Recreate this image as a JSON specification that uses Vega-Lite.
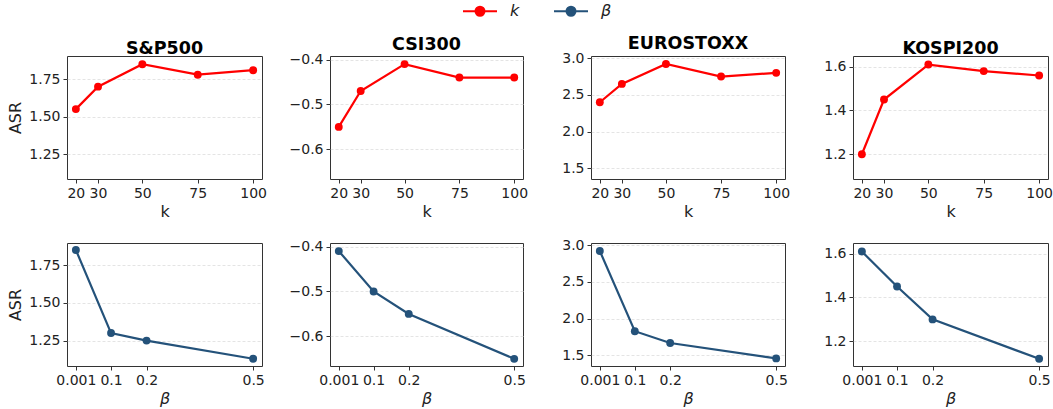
{
  "$schema": "https://vega.github.io/schema/vega-lite/v6.json",
  "padding": {"left": 6, "top": 3, "right": 0, "bottom": 0},
  "background": "white",
  "bounds": "flush",
  "columns": 4,
  "spacing": {"row": 64, "column": 68},
  "config": {
    "font": "DejaVu Sans",
    "view": {"stroke": "#333333", "strokeWidth": 1},
    "title": {"fontSize": 17.5, "fontWeight": "bold", "color": "#000000", "offset": -1, "font": "DejaVu Sans"},
    "axis": {
      "labelFont": "DejaVu Sans", "labelFontSize": 14, "labelColor": "#222222",
      "titleFont": "DejaVu Sans", "titleFontSize": 16, "titleFontWeight": "normal", "titleColor": "#222222",
      "tickColor": "#333333", "tickSize": 4, "domain": false, "labelPadding": 3, "titlePadding": 3
    },
    "axisY": {"grid": true, "gridColor": "#dddddd", "gridDash": [3, 2], "gridWidth": 0.8, "minExtent": 42, "maxExtent": 42, "titlePadding": 2},
    "axisX": {"grid": false, "labelFlush": false},
    "legend": {"labelFont": "DejaVu Sans", "labelFontSize": 16, "labelFontStyle": "italic", "labelColor": "#222222", "padding": 0}
  },
  "datasets": {
    "rows": [
      {"market": "S&P500", "param": "k", "x": 20, "asr": 1.55},
      {"market": "S&P500", "param": "k", "x": 30, "asr": 1.70},
      {"market": "S&P500", "param": "k", "x": 50, "asr": 1.85},
      {"market": "S&P500", "param": "k", "x": 75, "asr": 1.78},
      {"market": "S&P500", "param": "k", "x": 100, "asr": 1.81},
      {"market": "S&P500", "param": "β", "x": 0.001, "asr": 1.85},
      {"market": "S&P500", "param": "β", "x": 0.1, "asr": 1.30},
      {"market": "S&P500", "param": "β", "x": 0.2, "asr": 1.25},
      {"market": "S&P500", "param": "β", "x": 0.5, "asr": 1.13},
      {"market": "CSI300", "param": "k", "x": 20, "asr": -0.55},
      {"market": "CSI300", "param": "k", "x": 30, "asr": -0.47},
      {"market": "CSI300", "param": "k", "x": 50, "asr": -0.41},
      {"market": "CSI300", "param": "k", "x": 75, "asr": -0.44},
      {"market": "CSI300", "param": "k", "x": 100, "asr": -0.44},
      {"market": "CSI300", "param": "β", "x": 0.001, "asr": -0.41},
      {"market": "CSI300", "param": "β", "x": 0.1, "asr": -0.50},
      {"market": "CSI300", "param": "β", "x": 0.2, "asr": -0.55},
      {"market": "CSI300", "param": "β", "x": 0.5, "asr": -0.65},
      {"market": "EUROSTOXX", "param": "k", "x": 20, "asr": 2.40},
      {"market": "EUROSTOXX", "param": "k", "x": 30, "asr": 2.65},
      {"market": "EUROSTOXX", "param": "k", "x": 50, "asr": 2.92},
      {"market": "EUROSTOXX", "param": "k", "x": 75, "asr": 2.75},
      {"market": "EUROSTOXX", "param": "k", "x": 100, "asr": 2.80},
      {"market": "EUROSTOXX", "param": "β", "x": 0.001, "asr": 2.92},
      {"market": "EUROSTOXX", "param": "β", "x": 0.1, "asr": 1.83},
      {"market": "EUROSTOXX", "param": "β", "x": 0.2, "asr": 1.67},
      {"market": "EUROSTOXX", "param": "β", "x": 0.5, "asr": 1.46},
      {"market": "KOSPI200", "param": "k", "x": 20, "asr": 1.20},
      {"market": "KOSPI200", "param": "k", "x": 30, "asr": 1.45},
      {"market": "KOSPI200", "param": "k", "x": 50, "asr": 1.61},
      {"market": "KOSPI200", "param": "k", "x": 75, "asr": 1.58},
      {"market": "KOSPI200", "param": "k", "x": 100, "asr": 1.56},
      {"market": "KOSPI200", "param": "β", "x": 0.001, "asr": 1.61},
      {"market": "KOSPI200", "param": "β", "x": 0.1, "asr": 1.45},
      {"market": "KOSPI200", "param": "β", "x": 0.2, "asr": 1.30},
      {"market": "KOSPI200", "param": "β", "x": 0.5, "asr": 1.12}
    ]
  },
  "concat": [
    {
      "width": 195, "height": 123, "title": "S&P500",
      "data": {"name": "rows"},
      "transform": [{"filter": "datum.market === 'S&P500' && datum.param === 'k'"}],
      "mark": {"type": "line", "strokeWidth": 2.2, "point": {"size": 62, "filled": true}},
      "encoding": {
        "x": {"field": "x", "type": "quantitative", "scale": {"domain": [16, 104], "nice": false, "zero": false}, "axis": {"values": [20, 30, 50, 75, 100], "title": "k"}},
        "y": {"field": "asr", "type": "quantitative", "scale": {"domain": [1.083, 1.905], "nice": false, "zero": false}, "axis": {"values": [1.25, 1.5, 1.75], "format": ".2f", "title": "ASR"}},
        "color": {"field": "param", "type": "nominal", "scale": {"domain": ["k", "β"], "range": ["#ff0000", "#24527a"]},
          "legend": {"orient": "none", "direction": "horizontal", "legendX": 405, "legendY": -53, "title": null,
            "symbolType": "M -3.4 0 L 3.4 0 M -0.9 0 A 0.9 0.9 0 1 1 0.9 0 A 0.9 0.9 0 1 1 -0.9 0 Z", "symbolSize": 100, "symbolStrokeWidth": 2, "labelOffset": 22, "columnPadding": 30,
            "encode": {"symbols": {"update": {"fill": {"scale": "color", "field": "value"}, "stroke": {"scale": "color", "field": "value"}, "opacity": {"value": 1}}}}}}
      }
    },
    {
      "width": 193, "height": 123, "title": "CSI300",
      "data": {"name": "rows"},
      "transform": [{"filter": "datum.market === 'CSI300' && datum.param === 'k'"}],
      "mark": {"type": "line", "strokeWidth": 2.2, "point": {"size": 62, "filled": true}},
      "encoding": {
        "x": {"field": "x", "type": "quantitative", "scale": {"domain": [16, 104], "nice": false, "zero": false}, "axis": {"values": [20, 30, 50, 75, 100], "title": "k"}},
        "y": {"field": "asr", "type": "quantitative", "scale": {"domain": [-0.666, -0.392], "nice": false, "zero": false}, "axis": {"values": [-0.6, -0.5, -0.4], "format": ".1f", "title": null}},
        "color": {"field": "param", "type": "nominal", "scale": {"domain": ["k", "β"], "range": ["#ff0000", "#24527a"]}}
      }
    },
    {
      "width": 194, "height": 123, "title": "EUROSTOXX",
      "data": {"name": "rows"},
      "transform": [{"filter": "datum.market === 'EUROSTOXX' && datum.param === 'k'"}],
      "mark": {"type": "line", "strokeWidth": 2.2, "point": {"size": 62, "filled": true}},
      "encoding": {
        "x": {"field": "x", "type": "quantitative", "scale": {"domain": [16, 104], "nice": false, "zero": false}, "axis": {"values": [20, 30, 50, 75, 100], "title": "k"}},
        "y": {"field": "asr", "type": "quantitative", "scale": {"domain": [1.357, 3.029], "nice": false, "zero": false}, "axis": {"values": [1.5, 2.0, 2.5, 3.0], "format": ".1f", "title": null}},
        "color": {"field": "param", "type": "nominal", "scale": {"domain": ["k", "β"], "range": ["#ff0000", "#24527a"]}}
      }
    },
    {
      "width": 195, "height": 123, "title": "KOSPI200",
      "data": {"name": "rows"},
      "transform": [{"filter": "datum.market === 'KOSPI200' && datum.param === 'k'"}],
      "mark": {"type": "line", "strokeWidth": 2.2, "point": {"size": 62, "filled": true}},
      "encoding": {
        "x": {"field": "x", "type": "quantitative", "scale": {"domain": [16, 104], "nice": false, "zero": false}, "axis": {"values": [20, 30, 50, 75, 100], "title": "k"}},
        "y": {"field": "asr", "type": "quantitative", "scale": {"domain": [1.087, 1.649], "nice": false, "zero": false}, "axis": {"values": [1.2, 1.4, 1.6], "format": ".1f", "title": null}},
        "color": {"field": "param", "type": "nominal", "scale": {"domain": ["k", "β"], "range": ["#ff0000", "#24527a"]}}
      }
    },
    {
      "width": 195, "height": 123,
      "data": {"name": "rows"},
      "transform": [{"filter": "datum.market === 'S&P500' && datum.param === 'β'"}],
      "mark": {"type": "line", "strokeWidth": 2.2, "point": {"size": 62, "filled": true}},
      "encoding": {
        "x": {"field": "x", "type": "quantitative", "scale": {"domain": [-0.024, 0.525], "nice": false, "zero": false}, "axis": {"values": [0.001, 0.1, 0.2, 0.5], "labelExpr": "datum.value + ''", "title": "β", "titleFontStyle": "italic"}},
        "y": {"field": "asr", "type": "quantitative", "scale": {"domain": [1.082, 1.896], "nice": false, "zero": false}, "axis": {"values": [1.25, 1.5, 1.75], "format": ".2f", "title": "ASR"}},
        "color": {"field": "param", "type": "nominal", "scale": {"domain": ["k", "β"], "range": ["#ff0000", "#24527a"]}}
      }
    },
    {
      "width": 193, "height": 123,
      "data": {"name": "rows"},
      "transform": [{"filter": "datum.market === 'CSI300' && datum.param === 'β'"}],
      "mark": {"type": "line", "strokeWidth": 2.2, "point": {"size": 62, "filled": true}},
      "encoding": {
        "x": {"field": "x", "type": "quantitative", "scale": {"domain": [-0.024, 0.525], "nice": false, "zero": false}, "axis": {"values": [0.001, 0.1, 0.2, 0.5], "labelExpr": "datum.value + ''", "title": "β", "titleFontStyle": "italic"}},
        "y": {"field": "asr", "type": "quantitative", "scale": {"domain": [-0.666, -0.392], "nice": false, "zero": false}, "axis": {"values": [-0.6, -0.5, -0.4], "format": ".1f", "title": null}},
        "color": {"field": "param", "type": "nominal", "scale": {"domain": ["k", "β"], "range": ["#ff0000", "#24527a"]}}
      }
    },
    {
      "width": 194, "height": 123,
      "data": {"name": "rows"},
      "transform": [{"filter": "datum.market === 'EUROSTOXX' && datum.param === 'β'"}],
      "mark": {"type": "line", "strokeWidth": 2.2, "point": {"size": 62, "filled": true}},
      "encoding": {
        "x": {"field": "x", "type": "quantitative", "scale": {"domain": [-0.024, 0.525], "nice": false, "zero": false}, "axis": {"values": [0.001, 0.1, 0.2, 0.5], "labelExpr": "datum.value + ''", "title": "β", "titleFontStyle": "italic"}},
        "y": {"field": "asr", "type": "quantitative", "scale": {"domain": [1.357, 3.029], "nice": false, "zero": false}, "axis": {"values": [1.5, 2.0, 2.5, 3.0], "format": ".1f", "title": null}},
        "color": {"field": "param", "type": "nominal", "scale": {"domain": ["k", "β"], "range": ["#ff0000", "#24527a"]}}
      }
    },
    {
      "width": 195, "height": 123,
      "data": {"name": "rows"},
      "transform": [{"filter": "datum.market === 'KOSPI200' && datum.param === 'β'"}],
      "mark": {"type": "line", "strokeWidth": 2.2, "point": {"size": 62, "filled": true}},
      "encoding": {
        "x": {"field": "x", "type": "quantitative", "scale": {"domain": [-0.024, 0.525], "nice": false, "zero": false}, "axis": {"values": [0.001, 0.1, 0.2, 0.5], "labelExpr": "datum.value + ''", "title": "β", "titleFontStyle": "italic"}},
        "y": {"field": "asr", "type": "quantitative", "scale": {"domain": [1.087, 1.649], "nice": false, "zero": false}, "axis": {"values": [1.2, 1.4, 1.6], "format": ".1f", "title": null}},
        "color": {"field": "param", "type": "nominal", "scale": {"domain": ["k", "β"], "range": ["#ff0000", "#24527a"]}}
      }
    }
  ]
}
